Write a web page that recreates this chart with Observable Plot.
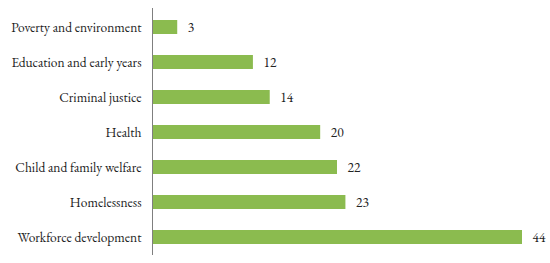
<!DOCTYPE html>
<html>
<head>
<meta charset="utf-8">
<script src="https://cdn.jsdelivr.net/npm/d3@7"></script>
<script src="https://cdn.jsdelivr.net/npm/@observablehq/plot@0.6"></script>
<style>
  html, body { margin: 0; padding: 0; background: #fff; }
  #chart svg { display: block; }
</style>
</head>
<body>
<div id="chart"></div>
<script>
const categories = [
  "Poverty and environment",
  "Education and early years",
  "Criminal justice",
  "Health",
  "Child and family welfare",
  "Homelessness",
  "Workforce development"
];
const values = [3, 12, 14, 20, 22, 23, 44];

const data = categories.map((c, i) => ({category: c, value: values[i]}));
const FONT = "'EB Garamond', 'Liberation Serif', serif";

const chart = Plot.plot({
  width: 550,
  height: 263,
  marginLeft: 152,
  marginRight: 28,
  marginTop: 8,
  marginBottom: 8,
  style: {fontFamily: FONT, fontSize: "13.5px", color: "#222", background: "#fff"},
  x: {domain: [0, 44], axis: null},
  y: {domain: categories, paddingInner: 0.6, paddingOuter: 0.3, axis: null},
  marks: [
    Plot.barX(data, {x: "value", y: "category", fill: "#8bbb4f"}),
    Plot.ruleX([0], {stroke: "#7f7f7f", strokeWidth: 1}),
    Plot.axisY({tickSize: 0, tickPadding: 11, label: null, fontSize: 13.5, fontFamily: FONT, fill: "#222"}),
    Plot.text(data, {x: "value", y: "category", text: d => String(d.value), dx: 10, textAnchor: "start", fontSize: 13.5, fontFamily: FONT, fill: "#222"})
  ]
});
d3.select(chart).selectAll("text").style("font-family", FONT);
document.getElementById("chart").appendChild(chart);
</script>
</body>
</html>
